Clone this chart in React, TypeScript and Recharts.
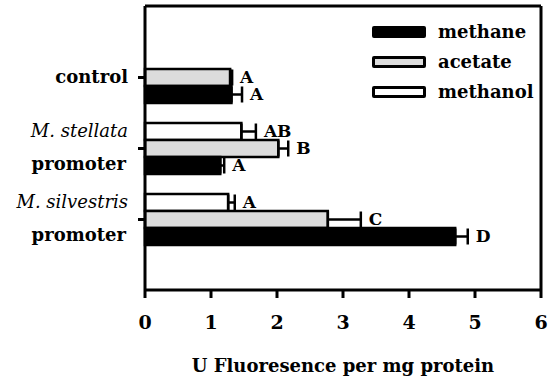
import React from "react";
import {
  BarChart,
  Bar,
  XAxis,
  YAxis,
  CartesianGrid,
  ErrorBar,
  LabelList,
  Legend,
} from "recharts";

const categories = ["control", "stellata", "silvestris"];
const tickItalic = [null, "M. stellata", "M. silvestris"];
const tickBold = ["control", "promoter", "promoter"];

const methane = [1.31, 1.14, 4.7];
const methaneErr = [0.16, 0.06, 0.19];
const methaneSig = ["A", "A", "D"];

const acetate = [1.29, 2.02, 2.77];
const acetateErr = [0.03, 0.15, 0.5];
const acetateSig = ["A", "B", "C"];

const methanol = [null, 1.46, 1.26];
const methanolErr = [0, 0.22, 0.1];
const methanolSig = [null, "AB", "A"];

const xTicks = [0, 1, 2, 3, 4, 5, 6];

const FONT = "'DejaVu Serif', 'Liberation Serif', serif";

const data = categories.map((cat, i) => ({
  cat,
  idx: i,
  methane: methane[i],
  methaneErr: [0, methaneErr[i]],
  acetate: acetate[i],
  acetateErr: [0, acetateErr[i]],
  methanol: methanol[i],
  methanolErr: [0, methanolErr[i]],
}));

const legendItems = [
  { name: "methane", fill: "#000" },
  { name: "acetate", fill: "#dcdcdc" },
  { name: "methanol", fill: "#fff" },
];

// value passed in is the category index, so skipped (null) bars don't shift letters
const makeLabel =
  (values: (number | null)[], errs: number[], sigs: (string | null)[]) =>
  (props: any) => {
    const vb = props.viewBox || props;
    const { x, y, width, height } = vb;
    const i = props.value;
    const v = values[i];
    if (v == null || !sigs[i]) return null;
    const ppu = width / v;
    const tx = x + width + errs[i] * ppu + 8;
    return (
      <text
        x={tx}
        y={y + height / 2}
        dy="0.3em"
        fontFamily={FONT}
        fontWeight="bold"
        fontSize={17}
        fill="#000"
      >
        {sigs[i]}
      </text>
    );
  };

const YTick = (props: any) => {
  const { x, y, payload } = props;
  const i = categories.indexOf(payload.value);
  const it = tickItalic[i];
  if (!it) {
    return (
      <text x={x} y={y} dy="0.33em" textAnchor="end" fontFamily={FONT} fontWeight="bold" fontSize={18} fill="#000">
        {tickBold[i]}
      </text>
    );
  }
  return (
    <g>
      <text x={x} y={y - 17} dy="0.33em" textAnchor="end" fontFamily={FONT} fontStyle="italic" fontSize={18} fill="#000">
        {it}
      </text>
      <text x={x - 2} y={y + 16} dy="0.33em" textAnchor="end" fontFamily={FONT} fontWeight="bold" fontSize={18} fill="#000">
        {tickBold[i]}
      </text>
    </g>
  );
};

const LegendBox = () => (
  <div style={{ fontFamily: FONT, fontWeight: "bold", fontSize: 18, lineHeight: "30px" }}>
    {legendItems.map((item) => (
      <div key={item.name} style={{ display: "flex", alignItems: "center", height: 30 }}>
        <span
          style={{
            display: "inline-block",
            width: 48,
            height: 6,
            background: item.fill,
            border: "3px solid #000",
            borderRadius: 2,
            marginRight: 12,
          }}
        />
        <span>{item.name}</span>
      </div>
    ))}
  </div>
);

const App = () => {
  return (
    <div style={{ position: "absolute", left: 0, top: 0, background: "#fff" }}>
      <BarChart
        width={550}
        height={386}
        data={data}
        layout="vertical"
        margin={{ top: 6, right: 9, left: 0, bottom: 0 }}
        barSize={17}
        barGap={0}
      >
        {/* closing frame: top edge and right edge of the plot area */}
        <CartesianGrid
          stroke="#000"
          strokeWidth={3}
          horizontalCoordinatesGenerator={(p: any) => [p.offset.top]}
          verticalCoordinatesGenerator={(p: any) => [p.offset.left + p.offset.width]}
        />
        <XAxis
          type="number"
          domain={[0, 6]}
          ticks={xTicks}
          tickSize={8}
          tickMargin={18}
          axisLine={{ stroke: "#000", strokeWidth: 3 }}
          tickLine={{ stroke: "#000", strokeWidth: 3 }}
          tick={{ fill: "#000", fontFamily: FONT, fontWeight: "bold", fontSize: 19 }}
          height={96}
          label={{
            value: "U Fluoresence per mg protein",
            position: "insideBottom",
            offset: 14,
            fill: "#000",
            fontFamily: FONT,
            fontWeight: "bold",
            fontSize: 18,
          }}
        />
        <YAxis
          type="category"
          dataKey="cat"
          width={145}
          padding={{ top: 36, bottom: 35 }}
          tickSize={7}
          tickMargin={10}
          axisLine={{ stroke: "#000", strokeWidth: 3 }}
          tickLine={{ stroke: "#000", strokeWidth: 3 }}
          tick={<YTick />}
        />
        <Legend
          layout="vertical"
          align="center"
          verticalAlign="middle"
          wrapperStyle={{ top: 17, left: 372, width: 170, height: 92 }}
          content={() => <LegendBox />}
        />
        <Bar dataKey="methanol" fill="#fff" stroke="#000" strokeWidth={2.5} isAnimationActive={false}>
          <ErrorBar dataKey="methanolErr" direction="x" width={8} stroke="#000" strokeWidth={2.5} />
          <LabelList dataKey="idx" content={makeLabel(methanol, methanolErr, methanolSig)} />
        </Bar>
        <Bar dataKey="acetate" fill="#dcdcdc" stroke="#000" strokeWidth={2.5} isAnimationActive={false}>
          <ErrorBar dataKey="acetateErr" direction="x" width={8} stroke="#000" strokeWidth={2.5} />
          <LabelList dataKey="idx" content={makeLabel(acetate, acetateErr, acetateSig)} />
        </Bar>
        <Bar dataKey="methane" fill="#000" stroke="#000" strokeWidth={2.5} isAnimationActive={false}>
          <ErrorBar dataKey="methaneErr" direction="x" width={8} stroke="#000" strokeWidth={2.5} />
          <LabelList dataKey="idx" content={makeLabel(methane, methaneErr, methaneSig)} />
        </Bar>
      </BarChart>
    </div>
  );
};

export default App;
